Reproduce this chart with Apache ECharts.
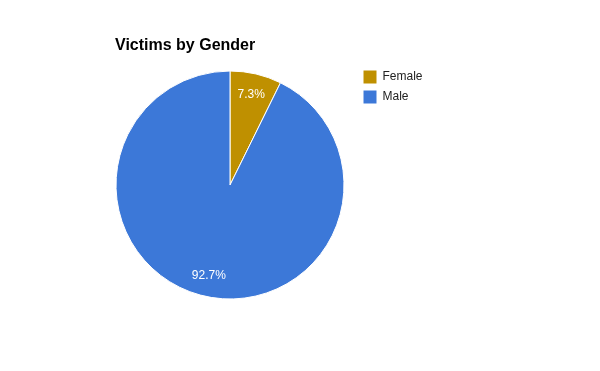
<!DOCTYPE html>
<html>
<head>
<meta charset="utf-8">
<script src="https://cdn.jsdelivr.net/npm/echarts@6/dist/echarts.min.js"></script>
<style>html,body{margin:0;padding:0;background:#fff;}#c{width:600px;height:371px;}</style>
</head>
<body>
<div id="c"></div>
<script>
const categories = ['Female', 'Male'];
const values = [7.3, 92.7];
const colors = ['#bf9000', '#3c78d8'];

const data = categories.map((n, i) => ({ name: n, value: values[i], itemStyle: { color: colors[i] } }));
const chart = echarts.init(document.getElementById('c'), null, { renderer: 'canvas' });
chart.setOption({
  animation: false,
  backgroundColor: '#ffffff',
  title: {
    text: 'Victims by Gender',
    left: 110, top: 33,
    textStyle: { fontFamily: 'Liberation Sans, Arial', fontSize: 16, fontWeight: 'bold', color: '#000' }
  },
  legend: {
    orient: 'vertical', left: 356.5, top: 63.5, itemWidth: 15, itemHeight: 15, itemGap: 3,
    icon: 'rect', data: categories,
    textStyle: { fontFamily: 'Liberation Sans, Arial', fontSize: 12, color: '#222' }
  },
  series: [
    {
      type: 'pie', center: [230, 185], radius: [0, 114], startAngle: 90, clockwise: true,
      data: data, label: { show: false }, labelLine: { show: false },
      itemStyle: { borderColor: '#fff', borderWidth: 1 }, emphasis: { disabled: true }
    },
    {
      type: 'pie', center: [230, 185], radius: [66, 114], startAngle: 90, clockwise: true, silent: true,
      data: categories.map((n, i) => ({ name: n, value: values[i], itemStyle: { color: 'rgba(0,0,0,0)' } })),
      label: { show: true, position: 'inside', formatter: p => p.value.toFixed(1) + '%', color: '#fff',
        fontFamily: 'Liberation Sans, Arial', fontSize: 12 },
      labelLine: { show: false }, legendHoverLink: false
    }
  ]
});
</script>
</body>
</html>
